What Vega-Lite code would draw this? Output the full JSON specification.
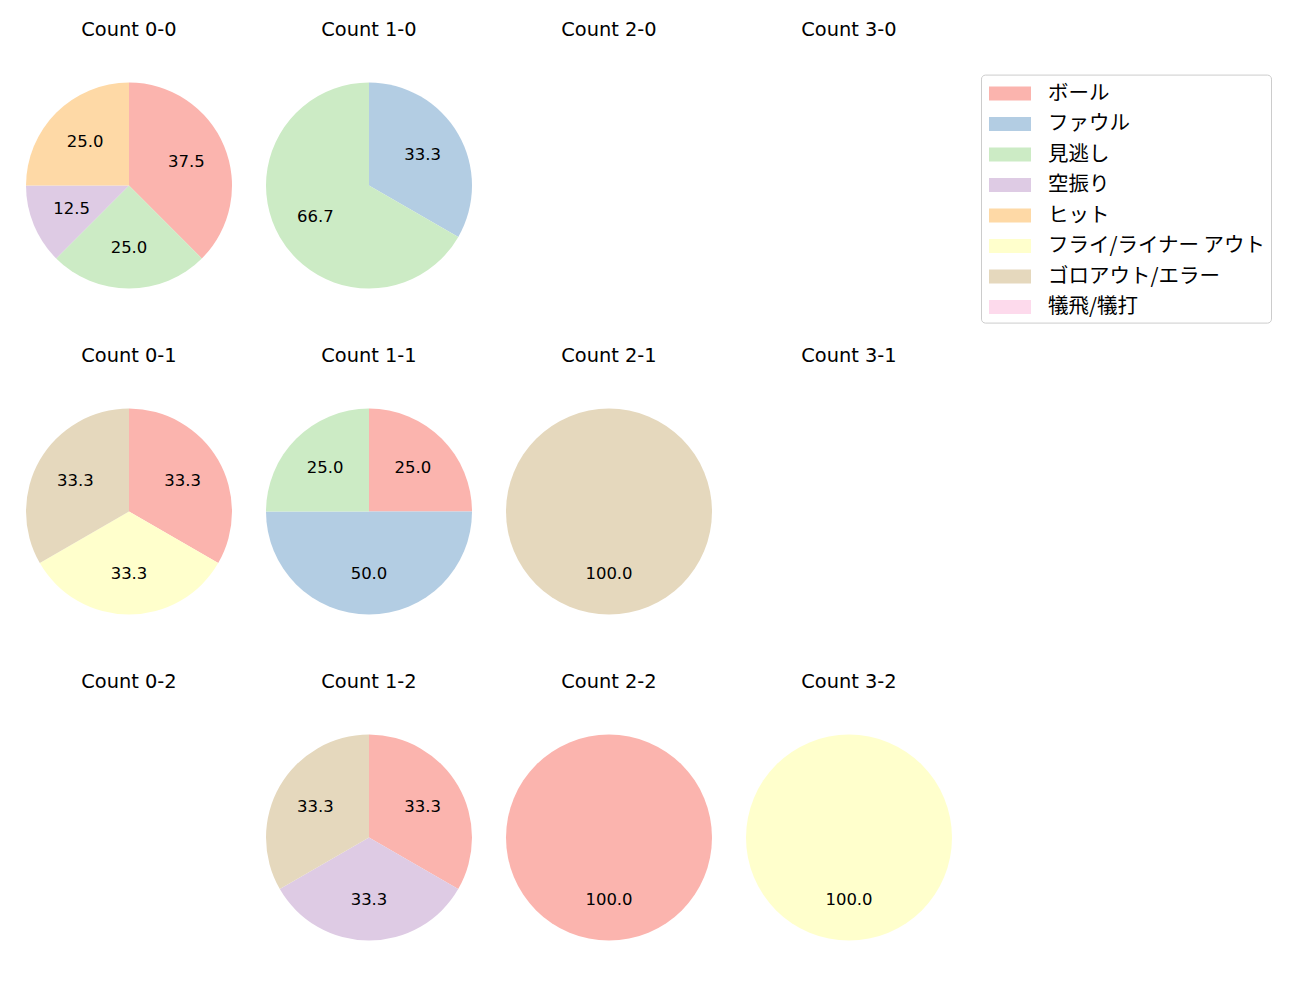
{
  "$schema": "https://vega.github.io/schema/vega-lite/v6.json",
  "background": "white",
  "padding": {"left": 26, "top": 19.6, "right": 5, "bottom": 5},
  "data": {"values": [
    {"count": "Count 0-0", "result": "ボール", "pct": 37.5, "k": 0},
    {"count": "Count 0-0", "result": "見逃し", "pct": 25.0, "k": 2},
    {"count": "Count 0-0", "result": "空振り", "pct": 12.5, "k": 3},
    {"count": "Count 0-0", "result": "ヒット", "pct": 25.0, "k": 4},
    {"count": "Count 1-0", "result": "ファウル", "pct": 33.3, "k": 1},
    {"count": "Count 1-0", "result": "見逃し", "pct": 66.7, "k": 2},
    {"count": "Count 2-0", "result": null, "pct": 0, "k": 0},
    {"count": "Count 3-0", "result": null, "pct": 0, "k": 0},
    {"count": "Count 0-1", "result": "ボール", "pct": 33.3, "k": 0},
    {"count": "Count 0-1", "result": "フライ/ライナー アウト", "pct": 33.3, "k": 5},
    {"count": "Count 0-1", "result": "ゴロアウト/エラー", "pct": 33.3, "k": 6},
    {"count": "Count 1-1", "result": "ボール", "pct": 25.0, "k": 0},
    {"count": "Count 1-1", "result": "ファウル", "pct": 50.0, "k": 1},
    {"count": "Count 1-1", "result": "見逃し", "pct": 25.0, "k": 2},
    {"count": "Count 2-1", "result": "ゴロアウト/エラー", "pct": 100.0, "k": 6},
    {"count": "Count 3-1", "result": null, "pct": 0, "k": 0},
    {"count": "Count 0-2", "result": null, "pct": 0, "k": 0},
    {"count": "Count 1-2", "result": "ボール", "pct": 33.3, "k": 0},
    {"count": "Count 1-2", "result": "空振り", "pct": 33.3, "k": 3},
    {"count": "Count 1-2", "result": "ゴロアウト/エラー", "pct": 33.3, "k": 6},
    {"count": "Count 2-2", "result": "ボール", "pct": 100.0, "k": 0},
    {"count": "Count 3-2", "result": "フライ/ライナー アウト", "pct": 100.0, "k": 5}
  ]},
  "facet": {
    "field": "count",
    "type": "nominal",
    "sort": ["Count 0-0", "Count 1-0", "Count 2-0", "Count 3-0", "Count 0-1", "Count 1-1", "Count 2-1", "Count 3-1", "Count 0-2", "Count 1-2", "Count 2-2", "Count 3-2"],
    "header": {"title": null, "labelFontSize": 19.4, "labelFont": "DejaVu Sans", "labelColor": "black", "labelPadding": 41.7}
  },
  "columns": 4,
  "spacing": {"row": 57, "column": 34},
  "spec": {
    "width": 206,
    "height": 206,
    "encoding": {
      "theta": {"field": "pct", "type": "quantitative", "stack": "normalize"},
      "order": {"field": "k", "type": "quantitative"},
      "color": {
        "field": "result", "type": "nominal",
        "scale": {
          "domain": ["ボール", "ファウル", "見逃し", "空振り", "ヒット", "フライ/ライナー アウト", "ゴロアウト/エラー", "犠飛/犠打"],
          "range": ["#fbb4ae", "#b3cde3", "#ccebc5", "#decbe4", "#fed9a6", "#ffffcc", "#e5d8bd", "#fddaec"]
        },
        "legend": {
          "title": null,
          "orient": "none",
          "legendX": 955,
          "legendY": -8,
          "symbolType": "M-0.786,-0.5H2.214V0.5H-0.786Z",
          "symbolSize": 784,
          "symbolStrokeWidth": 0,
          "symbolOpacity": 1,
          "labelFont": "Noto Sans CJK JP",
          "labelFontSize": 20.5,
          "labelColor": "black",
          "labelOffset": 34,
          "labelLimit": 400,
          "rowPadding": 5.5,
          "padding": 5,
          "strokeColor": "#cccccc",
          "cornerRadius": 4
        }
      }
    },
    "layer": [
      {
        "transform": [{"filter": "datum.pct > 0"}],
        "mark": {"type": "arc", "outerRadius": 103}
      },
      {
        "transform": [{"filter": "datum.pct > 0"}],
        "mark": {"type": "text", "radius": 62, "font": "DejaVu Sans", "fontSize": 16.5, "baseline": "middle"},
        "encoding": {
          "text": {"field": "pct", "type": "quantitative", "format": ".1f"},
          "color": {"value": "black"}
        }
      }
    ]
  },
  "config": {"view": {"stroke": null}}
}
